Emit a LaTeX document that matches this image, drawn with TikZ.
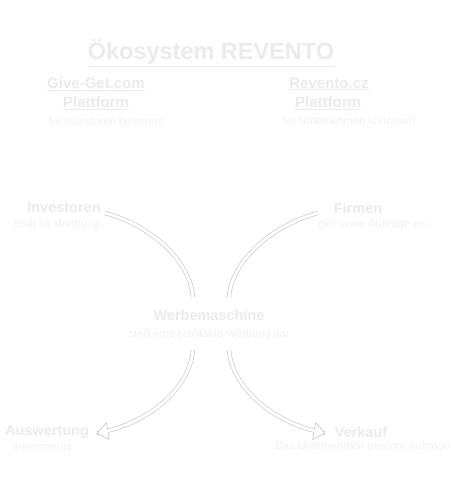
\documentclass[tikz,border=0pt]{standalone}
\usepackage{fontspec}
\setmainfont{Liberation Sans}
\usetikzlibrary{arrows.meta,decorations.markings}
\definecolor{txtA}{HTML}{EEEAEA}
\definecolor{txtB}{HTML}{F4F1F1}
\definecolor{arr}{HTML}{C4C4C4}
\tikzset{
  ttl/.style={font=\bfseries\fontsize{23.5}{26}\selectfont, text=txtA, inner sep=0pt},
  plat/.style={font=\bfseries\fontsize{15}{17}\selectfont, text=txtA, inner sep=0pt},
  head/.style={font=\bfseries\fontsize{14.5}{17}\selectfont, text=txtA, inner sep=0pt},
  sub/.style={font=\fontsize{11}{13}\selectfont, text=txtB, inner sep=0pt},
  flow/.style={draw=arr, line width=0.6pt, double=white, double distance=3pt},
  flowtip/.style={flow, postaction={decorate, decoration={markings,
    mark=at position 1 with {\filldraw[draw=arr, fill=white, line width=0.6pt, line join=miter]
      (-11pt,-1.8pt) -- (-11pt,-8.5pt) -- (0pt,0pt) -- (-11pt,8.5pt) -- (-11pt,1.8pt);}}}},
}
\begin{document}
\begin{tikzpicture}[x=1pt,y=-1pt]
\useasboundingbox (0,0) rectangle (450,482);
\fill[white] (0,0) rectangle (450,482);
\node[ttl] (title) at (211,53) {\underline{Ökosystem REVENTO}};
\node[plat] (gg1) at (96,84) {\underline{Give-Get.com}};
\node[plat] (gg2) at (96,103) {\underline{Plattform}};
\node[sub] (gg3) at (106,122) {für Investoren bestimmt};
\node[plat] (rv1) at (329,84) {\underline{Revento.cz}};
\node[plat] (rv2) at (328,103) {\underline{Plattform}};
\node[sub] (rv3) at (349,122) {für Unternehmen konzipiert};
\node[head] (inv) at (64,208) {Investoren};
\node[sub] (inv2) at (56,225) {zahlt für Werbung};
\node[head] (fir) at (358,208) {Firmen};
\node[sub] (fir2) at (373,225) {gibt seine Aufträge ein};
\node[head] (wm) at (209,315) {Werbemaschine};
\node[sub] (wm2) at (209,335) {stellt eine profitable Werbung dar};
\node[head] (aus) at (47,432) {Auswertung};
\node[sub] (aus2) at (42,447) {Investments};
\node[head] (ver) at (361,432) {Verkauf};
\node[sub, anchor=west] (ver2) at (275,447) {Das Unternehmen gewinnt Aufträge};
\coordinate (a1s) at (105,213);
\coordinate (a1e) at (193,297);
\coordinate (a2s) at (318,213);
\coordinate (a2e) at (229,297);
\coordinate (a3s) at (193,350);
\coordinate (a3e) at (97,433);
\coordinate (a4s) at (229,350);
\coordinate (a4e) at (325,433);
\draw[flow] (a1s) .. controls (150,225) and (190,260) .. (a1e);
\draw[flow] (a2s) .. controls (273,225) and (232,260) .. (a2e);
\draw[flowtip] (a3s) .. controls (190,387) and (150,424) .. (a3e);
\draw[flowtip] (a4s) .. controls (232,387) and (273,424) .. (a4e);
\end{tikzpicture}
\end{document}
